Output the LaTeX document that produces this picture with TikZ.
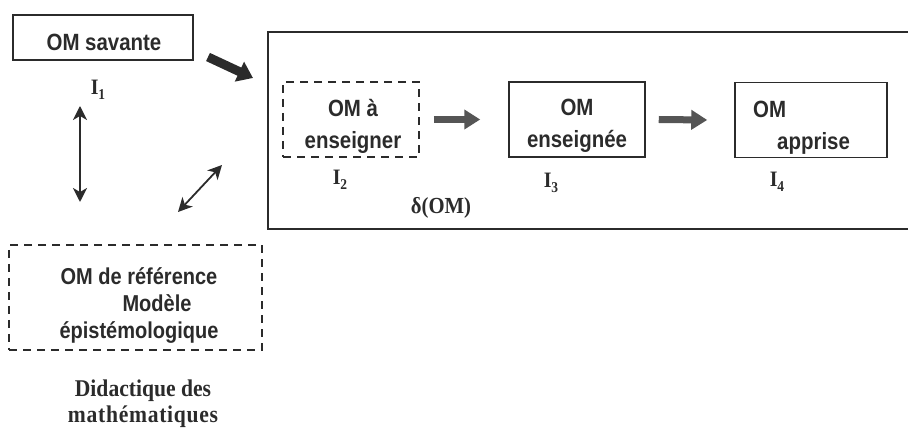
\documentclass[tikz,border=0pt]{standalone}
\usepackage{fontspec}
\setmainfont{Liberation Serif}[FakeStretch=0.9]
\setsansfont{Liberation Sans}[FakeStretch=0.87]
\usetikzlibrary{arrows.meta}

\definecolor{ink}{HTML}{2B2B2B}
\definecolor{arrowgray}{HTML}{555555}

\newcommand{\Ilabel}[1]{I\raisebox{-0.4ex}{\fontsize{15}{15}\selectfont #1}}

\tikzset{
  plainbox/.style={draw=ink, line width=1.5pt, inner sep=0pt},
  dashbox/.style={draw=ink, line width=1.5pt, dash pattern=on 8pt off 6pt, inner sep=0pt},
  boxtext/.style={text=ink, font=\sffamily\bfseries\fontsize{23.5}{32}\selectfont, align=center, inner sep=0pt},
  serifbold/.style={text=ink, font=\rmfamily\bfseries\fontsize{22}{26}\selectfont, align=center, inner sep=0pt},
  ilabel/.style={serifbold, anchor=base},
  blockarrow/.style={draw=arrowgray, line width=7pt, -{Triangle[length=16pt,width=19pt]}},
  darkarrow/.style={draw=ink, line width=9pt, -{Triangle[length=15pt,width=21pt]}},
  twoway/.style={draw=ink, line width=1.8pt, {Stealth[length=14pt,width=14pt,inset=4pt]}-{Stealth[length=14pt,width=14pt,inset=4pt]}}
}

\begin{document}
\begin{tikzpicture}[x=1pt,y=-1pt]
\useasboundingbox (0,0) rectangle (908,430);

% OM savante
\node[plainbox, minimum width=180pt, minimum height=45pt] (savante) at (103,37.5) {};
\node[boxtext] (savantetext) at (104,42.5) {OM savante};
\node[ilabel] (i1) at (98,95) {\Ilabel{1}};

% delta(OM)
\draw[plainbox] (908,32) -- (268,32) -- (268,229) -- (908,229);

\node[dashbox, minimum width=136pt, minimum height=75pt] (enseigner) at (351,119.5) {};
\node[boxtext] (enseignertext) at (353,126) {OM à\\enseigner};
\node[ilabel] (i2) at (340,185) {\Ilabel{2}};

\node[plainbox, minimum width=136pt, minimum height=75pt] (enseignee) at (577,119.5) {};
\node[boxtext] (enseigneetext) at (577,126) {OM\\enseignée};
\node[ilabel] (i3) at (551,188) {\Ilabel{3}};

\node[plainbox, minimum width=152pt, minimum height=75pt] (apprise) at (811,120) {};
\node[boxtext, align=left, anchor=west] (apprisetext) at (753,128) {OM\\\hspace*{24pt}apprise};
\node[ilabel] (i4) at (777,187) {\Ilabel{4}};

\node[serifbold, font=\rmfamily\bfseries\fontsize{23}{26}\selectfont] (delta) at (441,208) {δ(OM)};

% OM de reference
\node[dashbox, minimum width=253pt, minimum height=105pt] (reference) at (135.5,297.5) {};
\node[boxtext, font=\sffamily\bfseries\fontsize{23}{27}\selectfont] (referencetext) at (139,306)
  {OM de référence\\\hspace*{36pt}Modèle\\épistémologique};

\node[serifbold, font=\rmfamily\bfseries\fontsize{24}{26}\selectfont] (didactique) at (143,404)
  {Didactique des\\{\addfontfeature{LetterSpace=3}mathématiques}};

% Fleches
\coordinate (savout) at (208,57);
\coordinate (deltain) at (253,78);
\draw[darkarrow] (savout) -- (deltain);

\draw[blockarrow] ([xshift=14pt]enseigner.east) -- ([xshift=-28pt]enseignee.west);
\draw[blockarrow] ([xshift=13pt]enseignee.east) -- ([xshift=-27pt]apprise.west);

\coordinate (savdown) at (80,106);
\coordinate (refup) at (80,202);
\draw[twoway] (savdown) -- (refup);

\coordinate (refcorner) at (178,212);
\coordinate (deltacorner) at (222,165);
\draw[twoway] (refcorner) -- (deltacorner);

\end{tikzpicture}
\end{document}
